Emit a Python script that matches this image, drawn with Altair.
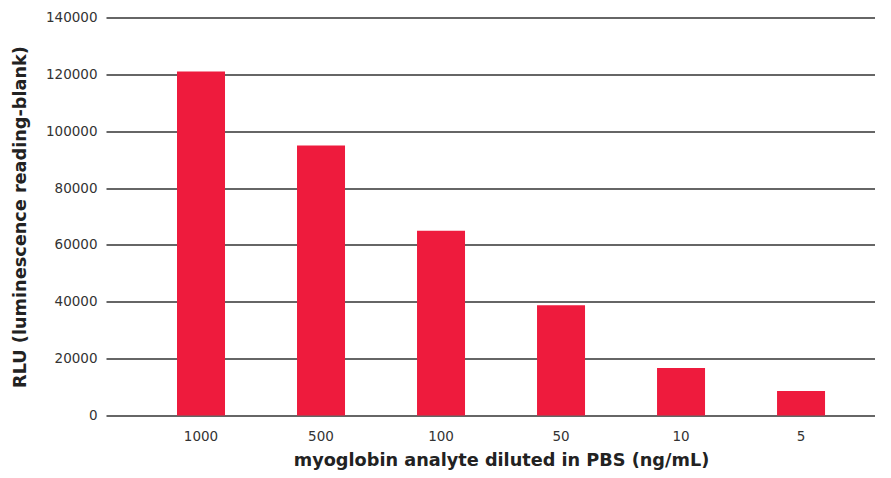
import altair as alt
import pandas as pd

categories = ["1000", "500", "100", "50", "10", "5"]
values = [121000, 95000, 65000, 38800, 16700, 8600]

df = pd.DataFrame({"conc": categories, "rlu": values})

chart = alt.Chart(df).mark_bar(color="#EE1B3D").encode(
    x=alt.X("conc:N", sort=categories,
            scale=alt.Scale(paddingInner=0.6, paddingOuter=0.504, align=0.587),
            axis=alt.Axis(title="myoglobin analyte diluted in PBS (ng/mL)", labelAngle=0,
                          ticks=False, domain=False, labelPadding=14, labelFontSize=13.5,
                          labelColor="#333333", titleFontSize=17.7, titleFontWeight="bold",
                          titleColor="#222222", titlePadding=8, labelFont="DejaVu Sans",
                          titleFont="DejaVu Sans", titleX=395)),
    y=alt.Y("rlu:Q", scale=alt.Scale(domain=[0, 140000], nice=False),
            axis=alt.Axis(title="RLU (luminescence reading-blank)", values=list(range(0, 140001, 20000)),
                          format="d", ticks=False, domain=False, grid=True, gridColor="#333333",
                          gridWidth=1.3, labelPadding=9, labelFontSize=13.5, labelColor="#333333",
                          titleFontSize=17.7, titleFontWeight="bold", titleColor="#222222",
                          titlePadding=16, labelFont="DejaVu Sans", titleFont="DejaVu Sans")),
).properties(
    width=769, height=398,
    autosize=alt.AutoSizeParams(type="none"),
    padding={"left": 98, "top": 9.5, "right": 0, "bottom": 54},
).configure_view(stroke=None)

chart.save("out.html", embed_options={"renderer": "svg", "actions": False})
